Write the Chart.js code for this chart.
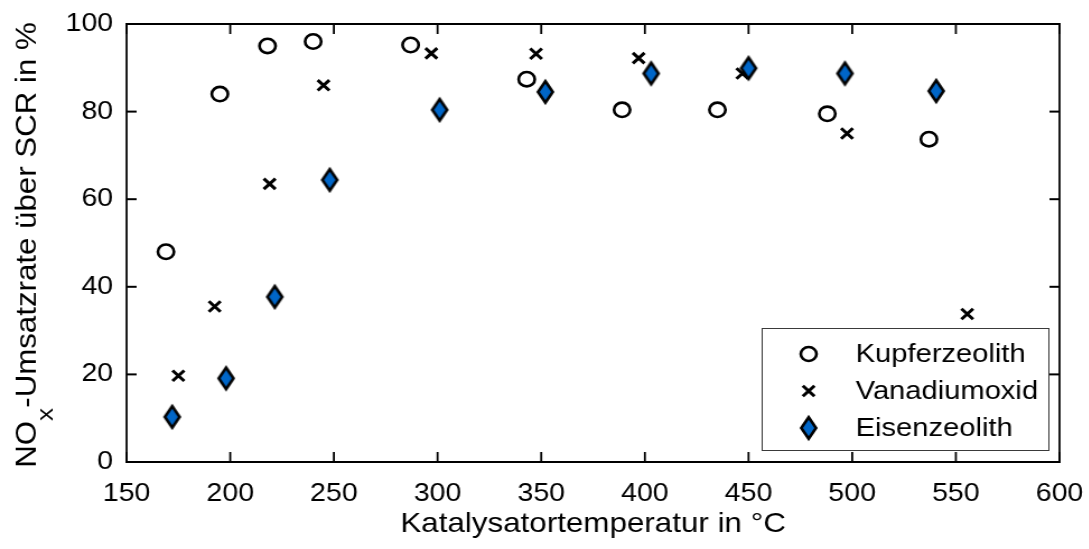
<!DOCTYPE html>
<html><head><meta charset="utf-8">
<script src="https://cdn.jsdelivr.net/npm/chart.js@4/dist/chart.umd.min.js"></script>
<style>
html,body{margin:0;padding:0;background:#fff;overflow:hidden;}
#wrap{width:972px;height:549px;transform:scaleX(1.12);transform-origin:0 0;}
canvas{display:block;}
</style></head><body>
<div id="wrap"><canvas id="c" width="972" height="549"></canvas></div>
<script>
// ---- data ----
const seriesNames = ['Kupferzeolith', 'Vanadiumoxid', 'Eisenzeolith'];
const kupferTemp = [169, 195, 218, 240, 287, 343, 389, 435, 488, 537];
const kupferRate = [48, 84, 95, 96, 95.2, 87.4, 80.4, 80.4, 79.5, 73.7];
const vanadTemp  = [175, 192.5, 219, 245, 297, 347.5, 397, 447, 497.5, 555.5];
const vanadRate  = [19.7, 35.5, 63.5, 86, 93.3, 93.2, 92.2, 88.7, 75, 33.8];
const eisenTemp  = [172, 198, 221.5, 248, 301, 352, 403, 450, 496.5, 540.5];
const eisenRate  = [10.3, 19.1, 37.7, 64.4, 80.4, 84.5, 88.7, 89.9, 88.7, 84.7];
const xTickValues = [150, 200, 250, 300, 350, 400, 450, 500, 550, 600];
const yTickValues = [0, 20, 40, 60, 80, 100];
const xTitle = 'Katalysatortemperatur in °C';
const yTitleMain = 'NO', yTitleSub = 'x', yTitleRest = '-Umsatzrate über SCR in %';

const FONT = '"Liberation Sans", Arial, Helvetica, sans-serif';
const BLUE = '#0066C8';

function pts(xs, ys) { return xs.map((v, i) => ({x: v, y: ys[i]})); }

// narrow diamond marker (MATLAB style)
function makeDiamond() {
  const c = document.createElement('canvas');
  c.width = 22; c.height = 32;
  const g = c.getContext('2d');
  const cx = 11, cy = 16, hw = 6.6, hh = 10.8;
  g.beginPath();
  g.moveTo(cx, cy - hh); g.lineTo(cx + hw, cy); g.lineTo(cx, cy + hh); g.lineTo(cx - hw, cy); g.closePath();
  g.fillStyle = BLUE; g.fill();
  g.lineWidth = 2.6; g.strokeStyle = '#000'; g.lineJoin = 'miter'; g.stroke();
  return c;
}
const diamond = makeDiamond();

const framePlugin = {
  id: 'frame',
  afterDraw(chart) {
    const {ctx, chartArea: a, scales: {x, y}} = chart;
    ctx.save();
    ctx.strokeStyle = '#000';
    ctx.lineCap = 'square';
    const line = (x1, y1, x2, y2, w) => { ctx.lineWidth = w; ctx.beginPath(); ctx.moveTo(x1, y1); ctx.lineTo(x2, y2); ctx.stroke(); };
    // box
    line(a.left, a.top, a.right, a.top, 2);
    line(a.left, a.bottom, a.right, a.bottom, 2);
    line(a.left, a.top, a.left, a.bottom, 1.8);
    line(a.right, a.top, a.right, a.bottom, 1.8);
    ctx.lineCap = 'butt';
    // inward ticks
    x.ticks.forEach(t => {
      const px = x.getPixelForValue(t.value);
      line(px, a.bottom, px, a.bottom - 10, 1.8);
      line(px, a.top, px, a.top + 10, 1.8);
    });
    y.ticks.forEach(t => {
      const py = y.getPixelForValue(t.value);
      line(a.left, py, a.left + 9, py, 2);
      line(a.right, py, a.right - 9, py, 2);
    });

    // y-axis title with subscript
    ctx.fillStyle = '#000';
    ctx.textBaseline = 'alphabetic';
    ctx.textAlign = 'left';
    ctx.translate(31.5, (a.top + a.bottom) / 2 + 2);
    ctx.rotate(-Math.PI / 2);
    ctx.scale(1.25, 1);
    const mainF = '25px ' + FONT, subF = '21px ' + FONT;
    ctx.font = mainF; const w1 = ctx.measureText(yTitleMain).width; const w3 = ctx.measureText(yTitleRest).width;
    ctx.font = subF;  const w2 = ctx.measureText(yTitleSub).width;
    let sx = -(w1 + w2 + w3) / 2;
    ctx.font = mainF; ctx.fillText(yTitleMain, sx, 0);
    ctx.font = subF;  ctx.fillText(yTitleSub, sx + w1, 15);
    ctx.font = mainF; ctx.fillText(yTitleRest, sx + w1 + w2, 0);
    ctx.restore();

    // legend
    ctx.save();
    const bw = 256, bh = 122;
    const bx = a.right - 10 - bw, by = a.bottom - 12 - bh;
    ctx.fillStyle = '#fff';
    ctx.fillRect(bx, by, bw, bh);
    ctx.strokeStyle = '#3a3a3a'; ctx.lineWidth = 1;
    ctx.strokeRect(bx + 0.5, by + 0.5, bw, bh);
    const rows = [26, 63, 100];
    const mx = bx + 42, tx = bx + 84;
    ctx.font = '26px ' + FONT;
    ctx.fillStyle = '#000';
    ctx.textBaseline = 'middle';
    ctx.textAlign = 'left';
    rows.forEach((ry, i) => {
      const yy = by + ry;
      ctx.strokeStyle = '#000';
      if (i === 0) {
        ctx.lineWidth = 2.6; ctx.beginPath(); ctx.arc(mx, yy, 7, 0, Math.PI * 2); ctx.stroke();
      } else if (i === 1) {
        ctx.lineWidth = 3; const d = 5.2;
        ctx.beginPath(); ctx.moveTo(mx - d, yy - d); ctx.lineTo(mx + d, yy + d);
        ctx.moveTo(mx + d, yy - d); ctx.lineTo(mx - d, yy + d); ctx.stroke();
      } else {
        ctx.drawImage(diamond, mx - diamond.width / 2, yy - diamond.height / 2);
      }
      ctx.fillText(seriesNames[i], tx, yy + 1);
    });
    ctx.restore();
  }
};

new Chart(document.getElementById('c'), {
  type: 'scatter',
  data: {
    datasets: [
      {label: seriesNames[0], data: pts(kupferTemp, kupferRate), pointStyle: 'circle', pointRadius: 7.2,
       borderColor: '#000', backgroundColor: 'rgba(0,0,0,0)', borderWidth: 2.6, order: 3},
      {label: seriesNames[1], data: pts(vanadTemp, vanadRate), pointStyle: 'crossRot', pointRadius: 7.4,
       borderColor: '#000', backgroundColor: '#000', borderWidth: 3, order: 2},
      {label: seriesNames[2], data: pts(eisenTemp, eisenRate), pointStyle: diamond, pointRadius: 11,
       borderColor: '#000', backgroundColor: BLUE, borderWidth: 2.6, order: 1}
    ]
  },
  options: {
    responsive: false,
    animation: false,
    events: [],
    layout: {padding: {top: 24, right: 26, left: 0, bottom: 0}},
    plugins: {legend: {display: false}, tooltip: {enabled: false}},
    scales: {
      x: {
        type: 'linear', min: 150, max: 600,
        afterBuildTicks: s => { s.ticks = xTickValues.map(v => ({value: v})); },
        afterFit: s => { s.height = 87; s.paddingLeft = 0; s.paddingRight = 0; },
        grid: {display: false, drawTicks: false},
        border: {display: false},
        ticks: {color: '#000', font: {family: FONT, size: 25.5}, padding: 17, autoSkip: false, maxRotation: 0},
        title: {display: true, text: xTitle, color: '#000', font: {family: FONT, size: 28, lineHeight: 1.2},
                padding: {top: 0, bottom: 8}}
      },
      y: {
        type: 'linear', min: 0, max: 100,
        afterBuildTicks: s => { s.ticks = yTickValues.map(v => ({value: v})); },
        afterFit: s => { s.width = 113; s.paddingTop = 0; s.paddingBottom = 0; },
        grid: {display: false, drawTicks: false},
        border: {display: false},
        ticks: {color: '#000', font: {family: FONT, size: 25.5}, padding: 12}
      }
    }
  },
  plugins: [framePlugin]
});
</script>
</body></html>
